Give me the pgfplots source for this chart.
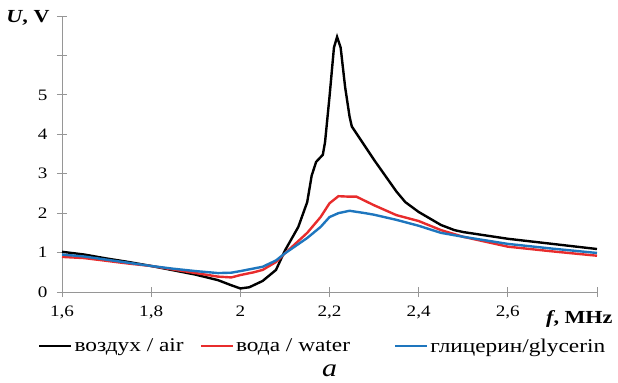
\documentclass[border=0pt]{standalone}
\usepackage{pgfplots}
\pgfplotsset{compat=1.18}
\usepackage{fontspec}
\setmainfont{Liberation Serif}[FakeStretch=1.2]
\definecolor{cred}{RGB}{232,44,44}
\definecolor{cblue}{RGB}{30,118,190}
\definecolor{axgray}{RGB}{150,150,150}
\begin{document}
\begin{tikzpicture}
\begin{axis}[
  scale only axis, width=535bp, height=276bp,
  xmin=1.6, xmax=2.8, ymin=0, ymax=7,
  axis lines=left, axis line style={axgray, line width=0.8bp, -},
  xtick={1.6,1.8,2.0,2.2,2.4,2.6,2.8},
  xticklabels={{1,6},{1,8},2,{2,2},{2,4},{2,6},{}},
  ytick={0,1,2,3,4,5,6,7},
  yticklabels={0,1,2,3,4,5,{},{}},
  tick align=center, major tick length=10bp,
  tick style={axgray, line width=0.8bp},
  ticklabel style={font=\fontsize{16}{18}\selectfont},
  xticklabel style={yshift=-5bp},
  yticklabel style={xshift=-6bp},
  /pgf/number format/assume math mode=true,
  clip=false,
  legend columns=3,
  legend style={draw=none, fill=none, at={(-0.045,-0.196)}, anchor=west,
    font=\fontsize{19.5}{21}\selectfont, inner sep=0pt,
    /tikz/every even column/.append style={column sep=0bp}},
  legend image code/.code={\draw[#1, line width=2.4bp] (0bp,0bp) -- (32bp,0bp);},
]
\addplot[black, line width=2.4bp] coordinates {
(1.6,1.02) (1.65,0.95) (1.7,0.85) (1.75,0.76) (1.8,0.66) (1.85,0.55) (1.9,0.44) (1.95,0.30) (1.98,0.17) (2.0,0.09) (2.02,0.12) (2.05,0.28) (2.08,0.56) (2.1,1.05) (2.13,1.65) (2.15,2.28) (2.16,2.95) (2.17,3.3) (2.18,3.42) (2.185,3.48) (2.19,3.8) (2.2,4.95) (2.21,6.2) (2.217,6.47) (2.225,6.2) (2.235,5.2) (2.245,4.45) (2.25,4.2) (2.3,3.35) (2.35,2.55) (2.37,2.28) (2.4,2.03) (2.45,1.7) (2.48,1.57) (2.5,1.52) (2.6,1.35) (2.7,1.22) (2.8,1.09)};
\addlegendentry{воздух / air\hspace*{14bp}}
\addplot[cred, line width=2.4bp] coordinates {
(1.6,0.89) (1.65,0.86) (1.7,0.79) (1.75,0.72) (1.8,0.66) (1.85,0.57) (1.9,0.48) (1.95,0.39) (1.98,0.37) (2.0,0.43) (2.03,0.5) (2.05,0.56) (2.08,0.76) (2.1,0.98) (2.15,1.5) (2.18,1.9) (2.2,2.25) (2.22,2.43) (2.24,2.42) (2.26,2.42) (2.28,2.31) (2.3,2.2) (2.35,1.95) (2.4,1.8) (2.45,1.57) (2.5,1.4) (2.6,1.15) (2.7,1.03) (2.8,0.92)};
\addlegendentry{вода / water\hspace*{42bp}}
\addplot[cblue, line width=2.4bp] coordinates {
(1.6,0.95) (1.65,0.9) (1.7,0.82) (1.75,0.74) (1.8,0.66) (1.85,0.59) (1.9,0.53) (1.95,0.48) (1.98,0.49) (2.0,0.53) (2.05,0.64) (2.08,0.8) (2.1,0.98) (2.15,1.37) (2.18,1.65) (2.2,1.9) (2.22,2.0) (2.245,2.06) (2.28,2.0) (2.3,1.96) (2.35,1.83) (2.4,1.68) (2.45,1.5) (2.5,1.4) (2.6,1.22) (2.7,1.1) (2.8,0.99)};
\addlegendentry{глицерин/glycerin}
\node[anchor=east, font=\fontsize{18.5}{20}\selectfont\bfseries] at (rel axis cs:1.0,0) [xshift=19bp, yshift=-27bp] {\textit{f}, MHz};
\node[anchor=east, font=\fontsize{18.5}{20}\selectfont\bfseries] at (rel axis cs:0,1) [xshift=-9bp, yshift=-2bp] {\textit{U}, V};
\node[font=\fontsize{25}{27}\selectfont\itshape] at (rel axis cs:0.5,0) [yshift=-79bp] {a};
\end{axis}
\path[use as bounding box] (-62bp,-91bp) rectangle (556bp,292bp);
\end{tikzpicture}
\end{document}
